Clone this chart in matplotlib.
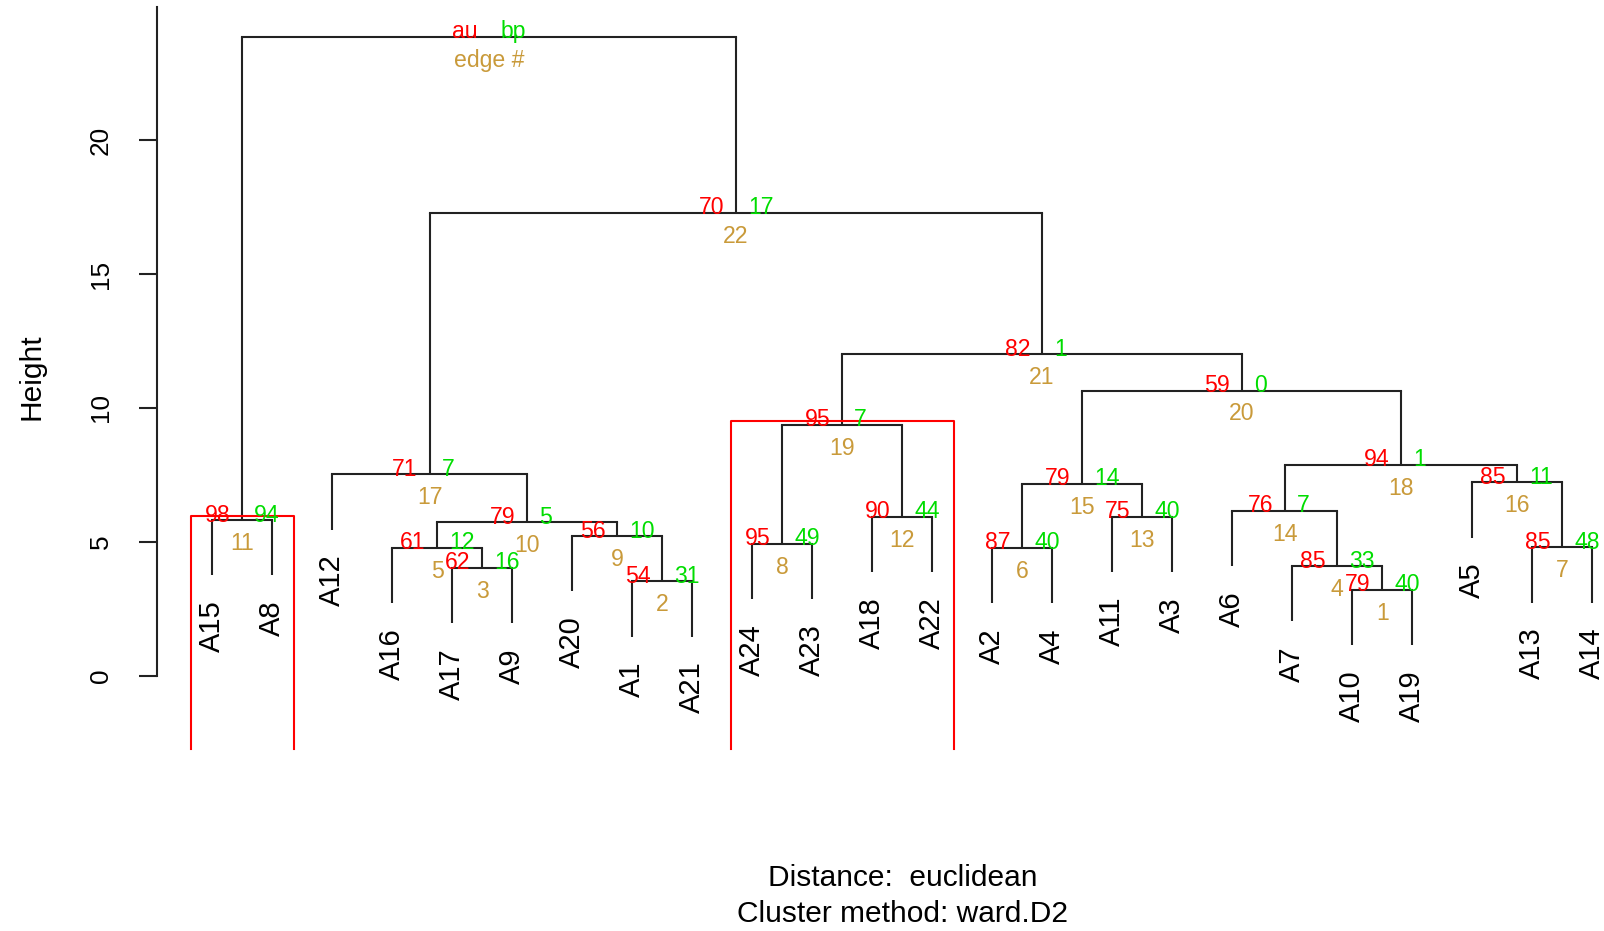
import matplotlib.pyplot as plt

plt.rcParams['font.family'] = ['Liberation Sans', 'DejaVu Sans']

# Листья в порядке отрисовки
leaves = ['A15', 'A8', 'A12', 'A16', 'A17', 'A9', 'A20', 'A1', 'A21',
          'A24', 'A23', 'A18', 'A22', 'A2', 'A4', 'A11', 'A3', 'A6',
          'A7', 'A10', 'A19', 'A5', 'A13', 'A14']

# Слияния (строка = лист, число = номер ребра)
merges = [('A10', 'A19'), ('A1', 'A21'), ('A17', 'A9'), ('A7', 1),
          ('A16', 3), ('A2', 'A4'), ('A13', 'A14'), ('A24', 'A23'),
          ('A20', 2), (5, 9), ('A15', 'A8'), ('A18', 'A22'),
          ('A11', 'A3'), ('A6', 4), (6, 13), ('A5', 7), ('A12', 10),
          (14, 16), (8, 12), (15, 18), (19, 20), (17, 21), (11, 22)]

heights = [3.21, 3.52, 4.02, 4.09, 4.77, 4.78, 4.79, 4.93, 5.21, 5.73,
           5.81, 5.93, 5.94, 6.16, 7.16, 7.22, 7.52, 7.87, 9.37, 10.65,
           12.0, 17.29, 23.86]

au = [79, 54, 62, 85, 61, 87, 85, 95, 56, 79, 98, 90, 75, 76, 79, 85,
      71, 94, 95, 59, 82, 70, None]
bp = [40, 31, 16, 33, 12, 40, 48, 49, 10, 5, 94, 44, 40, 7, 14, 11,
      7, 1, 7, 0, 1, 17, None]

yticks = [0, 5, 10, 15, 20]

col_au = '#FF0000'
col_bp = '#00DD00'
col_edge = '#C99A3A'
line_col = '#222222'

fig = plt.figure(figsize=(16.04, 9.31), dpi=100)
ax = fig.add_axes([0.09794, 0.19108, 0.9292, 0.80107])

n = len(leaves)
xlim = (1 - 0.04 * (n - 1), n + 0.04 * (n - 1))
ylim = (-2.89, 24.96)
ax.set_xlim(xlim)
ax.set_ylim(ylim)

pos = {lab: i + 1 for i, lab in enumerate(leaves)}
hang = 0.1 * (max(heights) - min(heights))
node_x = {}
members = {}
leaf_ends = []

for k, (l, r) in enumerate(merges, start=1):
    h = heights[k - 1]
    xs = []
    mem = []
    for c in (l, r):
        if isinstance(c, str):
            cx = pos[c]
            cy = h - hang
            leaf_ends.append((c, cx, cy))
            mem.append(pos[c])
        else:
            cx = node_x[c]
            cy = heights[c - 1]
            mem.extend(members[c])
        ax.plot([cx, cx], [cy, h], color=line_col, lw=1.5, solid_capstyle='butt')
        xs.append(cx)
    ax.plot(xs, [h, h], color=line_col, lw=1.5, solid_capstyle='projecting')
    node_x[k] = sum(xs) / 2
    members[k] = mem

# подписи листьев
for lab, lx, ly in leaf_ends:
    ax.annotate(lab, (lx, ly), xytext=(0, -18), textcoords='offset points',
                rotation=90, ha='center', va='top', fontsize=21,
                annotation_clip=False)

# au / bp / номер ребра
for k in range(1, len(merges) + 1):
    x = node_x[k]
    h = heights[k - 1]
    last = k == len(merges)
    a_txt = 'au' if last else str(au[k - 1])
    b_txt = 'bp' if last else str(bp[k - 1])
    e_txt = 'edge #' if last else str(k)
    ax.annotate(a_txt, (x, h), xytext=(-8.6, -1), textcoords='offset points',
                ha='right', va='baseline', color=col_au, fontsize=16.6)
    ax.annotate(b_txt, (x, h), xytext=(8.6, -1), textcoords='offset points',
                ha='left', va='baseline', color=col_bp, fontsize=16.6)
    ax.annotate(e_txt, (x, h), xytext=(0, -8.6), textcoords='offset points',
                ha='center', va='top', color=col_edge, fontsize=16.6)

# прямоугольники для au >= 95 (только максимальные), низ обрезан
xwd = xlim[1] - xlim[0]
ywd = ylim[1] - ylim[0]
mx = xwd / (n - 1) / 3
my = ywd / 200
covered = set()
for k in range(len(merges) - 1, 0, -1):
    if au[k - 1] is not None and au[k - 1] >= 95:
        ma = members[k]
        if not covered.intersection(ma):
            xl, xr = min(ma) - mx, max(ma) + mx
            yb, yt = ylim[0] + my, heights[k - 1] + my
            ax.plot([xl, xl, xr, xr], [yb, yt, yt, yb], color='#FF0000',
                    lw=1.5, clip_on=False)
        covered.update(ma)

for s in ['top', 'right', 'bottom']:
    ax.spines[s].set_visible(False)
ax.spines['left'].set_bounds(0, ylim[1])
ax.spines['left'].set_linewidth(1.5)
ax.spines['left'].set_color(line_col)
ax.set_xticks([])
ax.set_yticks(yticks)
ax.set_yticklabels([str(t) for t in yticks], rotation=90, va='center')
ax.tick_params(axis='y', length=13, width=1.5, pad=19, labelsize=18.8,
               color=line_col)

fig.text(31.7 / 1604, 1 - 376.5 / 931, 'Height', rotation=90,
         ha='center', va='center', fontsize=21.5)
cx = 0.09794 + 0.9292 / 2
fig.text(cx, 1 - 877.8 / 931, 'Distance:  euclidean', ha='center',
         va='center', fontsize=21.5)
fig.text(cx, 1 - 913.6 / 931, 'Cluster method: ward.D2', ha='center',
         va='center', fontsize=21.5)

fig.savefig('out.png', dpi=100)
